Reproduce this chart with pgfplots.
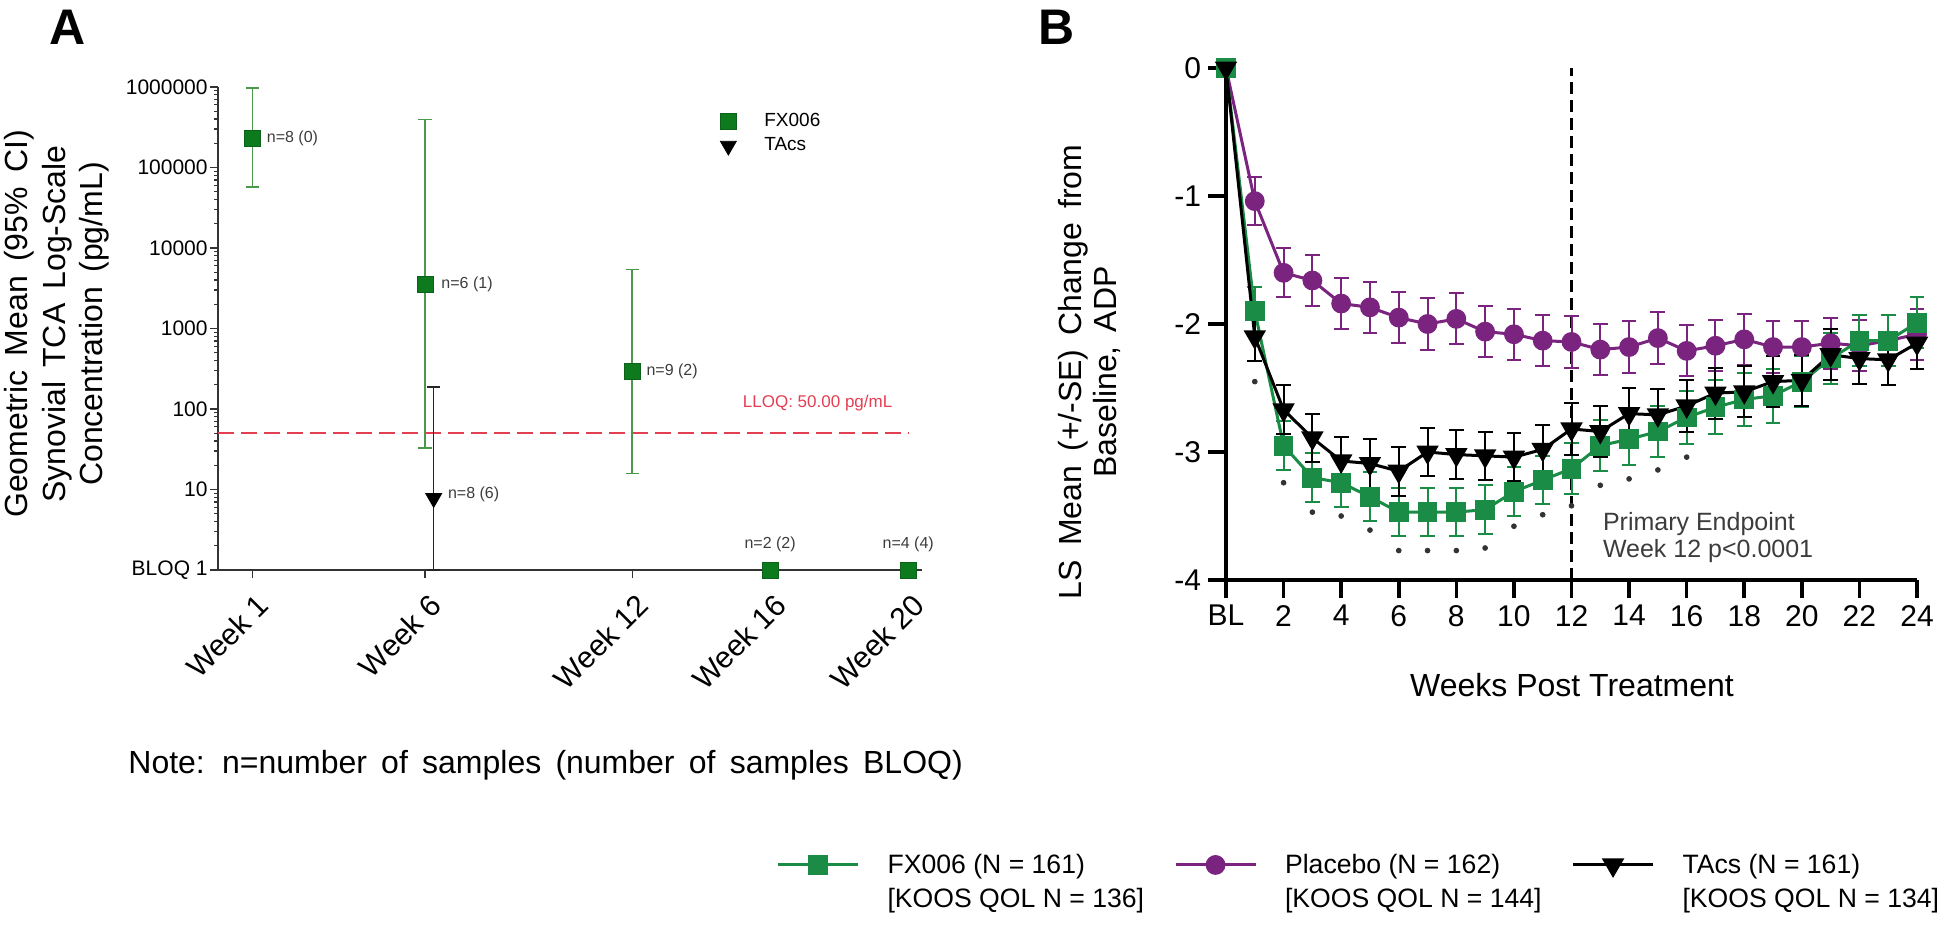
\documentclass[border=0pt]{standalone}
\usepackage{pgfplots}
\usepackage{pgfplotstable}
\pgfplotsset{compat=1.18}
\usepackage{fontspec}
\setmainfont{Liberation Sans}
\newfontfamily\spaced{Liberation Sans}[WordSpace=1.6]

\definecolor{fxdark}{RGB}{14,122,30}
\definecolor{fxbar}{RGB}{74,152,74}
\definecolor{fxgreen}{RGB}{26,140,70}
\definecolor{placebo}{RGB}{122,36,128}
\definecolor{lloqred}{RGB}{228,62,82}
\definecolor{darktext}{RGB}{60,60,60}

% panel B: LS mean change from baseline, +/- SE
\pgfplotstableread{
wk   fx     fxe   pl     ple   ta     tae
0    0      0     0      0     0      0
1   -1.90   0.19 -1.04   0.19 -2.10   0.19
2   -2.95   0.19 -1.60   0.19 -2.67   0.19
3   -3.20   0.19 -1.66   0.20 -2.89   0.19
4   -3.24   0.19 -1.84   0.20 -3.07   0.19
5   -3.35   0.19 -1.87   0.20 -3.09   0.19
6   -3.47   0.19 -1.95   0.20 -3.15   0.19
7   -3.47   0.19 -2.00   0.20 -3.00   0.19
8   -3.47   0.19 -1.96   0.20 -3.02   0.19
9   -3.45   0.19 -2.06   0.20 -3.03   0.19
10  -3.31   0.19 -2.08   0.20 -3.04   0.19
11  -3.22   0.19 -2.13   0.20 -2.98   0.19
12  -3.13   0.20 -2.14   0.20 -2.82   0.20
13  -2.95   0.20 -2.20   0.20 -2.84   0.20
14  -2.90   0.20 -2.18   0.20 -2.70   0.20
15  -2.84   0.20 -2.11   0.20 -2.71   0.20
16  -2.73   0.21 -2.21   0.20 -2.64   0.20
17  -2.65   0.21 -2.17   0.20 -2.54   0.20
18  -2.59   0.21 -2.12   0.20 -2.53   0.20
19  -2.56   0.21 -2.18   0.20 -2.45   0.20
20  -2.45   0.20 -2.18   0.20 -2.44   0.20
21  -2.27   0.20 -2.15   0.20 -2.24   0.20
22  -2.13   0.20 -2.17   0.20 -2.27   0.20
23  -2.13   0.20 -2.13   0.20 -2.28   0.20
24  -1.99   0.20 -2.08   0.20 -2.15   0.20
}\panelB

% significance asterisks under FX006
\pgfplotstableread{
wk  y
1  -2.45
2  -3.24
3  -3.47
4  -3.50
5  -3.61
6  -3.77
7  -3.77
8  -3.77
9  -3.75
10 -3.58
11 -3.49
12 -3.42
13 -3.26
14 -3.21
15 -3.14
16 -3.04
}\stars

\begin{document}
\begin{tikzpicture}
\path[use as bounding box] (0pt,0pt) rectangle (975pt,-463pt);

% ---------------- panel A ----------------
\begin{axis}[
    at={(109pt,-285pt)}, anchor=south west,
    scale only axis, width=352pt, height=241.5pt,
    ymode=log, ymin=1, ymax=1e6,
    xmin=0, xmax=20.4,
    axis lines*=left,
    axis line style={line width=0.8pt, black!80},
    xtick={1,6,12,16,20},
    xticklabels={Week 1,Week 6,Week 12,Week 16,Week 20},
    ytick={1,10,100,1000,10000,100000,1000000},
    yticklabels={BLOQ 1,10,100,1000,10000,100000,1000000},
    minor ytick={2,3,4,5,6,7,8,9,20,30,40,50,60,70,80,90,200,300,400,500,600,700,800,900,
      2000,3000,4000,5000,6000,7000,8000,9000,20000,30000,40000,50000,60000,70000,80000,90000,
      200000,300000,400000,500000,600000,700000,800000,900000},
    tick align=outside,
    major tick length=4pt, minor tick length=2pt,
    tick style={black!80, line width=0.6pt},
    yticklabel style={font=\fontsize{10.5}{12}\selectfont, inner sep=1pt},
    xticklabel style={font=\fontsize{15}{17}\selectfont, rotate=45, anchor=north east,
      inner sep=1pt, xshift=-3pt, yshift=-5pt},
    clip=false,
    legend style={draw=none, fill=none, at={(0.713,0.95)}, anchor=north west,
      font=\fontsize{9.5}{11}\selectfont, row sep=2pt, inner sep=0pt,
      nodes={inner sep=1pt},
      /tikz/every odd column/.append style={column sep=13pt}},
    legend cell align=left,
]
\addplot[lloqred, line width=1pt, dash pattern=on 8pt off 3.5pt, forget plot]
    coordinates {(0,50) (20,50)};

\addplot[only marks, mark=square*, mark size=4pt,
    mark options={fill=fxdark, draw=fxdark!80!black, line width=0.4pt},
    error bars/.cd, y dir=both, y explicit,
    error bar style={fxbar, line width=0.8pt},
    error mark options={rotate=90, mark size=3.3pt, fxbar, line width=0.8pt}]
    coordinates {
    (1,230000) += (0,750000) -= (0,172500)
    (6,3560) += (0,392440) -= (0,3527)
    (12,290) += (0,5110) -= (0,274.2)
    (16,1) (20,1)
    };
\addlegendentry{FX006}

\addplot[only marks, mark=triangle*, mark size=4.6pt,
    mark options={rotate=180, fill=black, draw=black},
    error bars/.cd, y dir=both, y explicit,
    error bar style={black!85, line width=0.8pt},
    error mark options={rotate=90, mark size=3.3pt, black!85, line width=0.8pt}]
    coordinates {(6.25,7.8) += (0,181.2) -= (0,6.8)};
\addlegendentry{TAcs}

\begin{scope}[every node/.style={font=\fontsize{8}{9}\selectfont, text=darktext, inner sep=0pt}]
\node[anchor=west, xshift=7pt] at (axis cs:1,230000) {n=8 (0)};
\node[anchor=west, xshift=8pt] at (axis cs:6,3560) {n=6 (1)};
\node[anchor=west, xshift=7pt] at (axis cs:12,290) {n=9 (2)};
\node[anchor=west, xshift=7pt, yshift=2pt] at (axis cs:6.25,7.8) {n=8 (6)};
\node[anchor=south, yshift=9pt] at (axis cs:16,1) {n=2 (2)};
\node[anchor=south, yshift=9pt] at (axis cs:20,1) {n=4 (4)};
\end{scope}
\node[anchor=west, inner sep=0pt, text=lloqred, font=\fontsize{8.5}{10}\selectfont, yshift=15pt]
    at (axis cs:15.2,50) {LLOQ: 50.00 pg/mL};
\end{axis}

% ---------------- panel B ----------------
\begin{axis}[
    at={(613pt,-290pt)}, anchor=south west,
    scale only axis, width=345.5pt, height=256pt,
    xmin=0, xmax=24, ymin=-4, ymax=0,
    axis lines*=left,
    axis line style={line width=1.8pt, black},
    xtick={0,2,4,6,8,10,12,14,16,18,20,22,24},
    xticklabels={BL,2,4,6,8,10,12,14,16,18,20,22,24},
    ytick={-4,-3,-2,-1,0},
    yticklabels={-4,-3,-2,-1,0},
    tick align=outside, major tick length=9pt,
    tick style={line width=1.8pt, black},
    ticklabel style={font=\fontsize{15}{17}\selectfont},
    clip=false,
    legend columns=3,
    legend cell align=left,
    legend style={draw=none, fill=none, at={(-0.651,-0.590)}, anchor=west,
      font=\fontsize{13.3}{15}\selectfont, inner sep=0pt, row sep=6pt,
      nodes={inner sep=0pt},
      /tikz/every odd column/.append style={column sep=14pt},
      /tikz/every even column/.append style={column sep=15pt}},
    legend image code/.code={\draw[mark repeat=2, mark phase=2, #1]
      plot coordinates {(0pt,0pt) (20pt,0pt) (40pt,0pt)};},
]
\addplot[black, line width=1.6pt, dash pattern=on 6pt off 3pt, forget plot]
    coordinates {(12,-4) (12,0)};

\addplot[placebo, line width=1.5pt, mark=*, mark size=4.2pt, forget plot,
    error bars/.cd, y dir=both, y explicit,
    error bar style={line width=1pt},
    error mark options={rotate=90, mark size=3.7pt, line width=1pt}]
    table[x=wk, y=pl, y error=ple] {\panelB};

\addplot[fxgreen, line width=1.5pt, mark=square*, mark size=4.2pt,
    error bars/.cd, y dir=both, y explicit,
    error bar style={line width=1pt},
    error mark options={rotate=90, mark size=3.7pt, line width=1pt}]
    table[x=wk, y=fx, y error=fxe] {\panelB};
\addlegendentry{FX006 (N = 161)}

\addlegendimage{placebo, line width=1.5pt, mark=*, mark size=4.2pt}
\addlegendentry{Placebo (N = 162)}

\addplot[black, line width=1.5pt, mark=triangle*, mark size=5pt, mark options={rotate=180},
    error bars/.cd, y dir=both, y explicit,
    error bar style={line width=1pt},
    error mark options={rotate=90, mark size=3.7pt, line width=1pt}]
    table[x=wk, y=ta, y error=tae] {\panelB};
\addlegendentry{TAcs (N = 161)}

\addlegendimage{empty legend}
\addlegendentry{[KOOS QOL N = 136]}
\addlegendimage{empty legend}
\addlegendentry{[KOOS QOL N = 144]}
\addlegendimage{empty legend}
\addlegendentry{[KOOS QOL N = 134]}

\addplot[only marks, mark=*, mark size=1.2pt, black!80, forget plot]
    table[x=wk, y=y] {\stars};

\node[anchor=west, align=left, text=darktext, font=\fontsize{12.5}{13.5}\selectfont]
    at (axis cs:12.85,-3.665) {Primary Endpoint\\Week 12 p<0.0001};
\end{axis}

% ---------------- labels outside the axes ----------------
\node[font=\bfseries\fontsize{25}{25}\selectfont] at (34pt,-13.5pt) {A};
\node[font=\bfseries\fontsize{25}{25}\selectfont] at (528.5pt,-13.5pt) {B};

\node[rotate=90, align=center, font=\spaced\fontsize{16}{18.75}\selectfont]
    at (28.5pt,-162pt) {Geometric Mean (95\% CI)\\Synovial TCA Log-Scale\\Concentration (pg/mL)};
\node[rotate=90, align=center, font=\spaced\fontsize{16}{17.5}\selectfont]
    at (544.5pt,-186pt) {LS Mean (+/-SE) Change from\\Baseline, ADP};
\node[anchor=base, font=\fontsize{16}{18}\selectfont] at (786pt,-348pt) {Weeks Post Treatment};
\node[anchor=base west, inner sep=0pt, font=\spaced\fontsize{16}{18}\selectfont]
    at (64pt,-386.5pt) {Note: n=number of samples (number of samples BLOQ)};
\end{tikzpicture}
\end{document}
